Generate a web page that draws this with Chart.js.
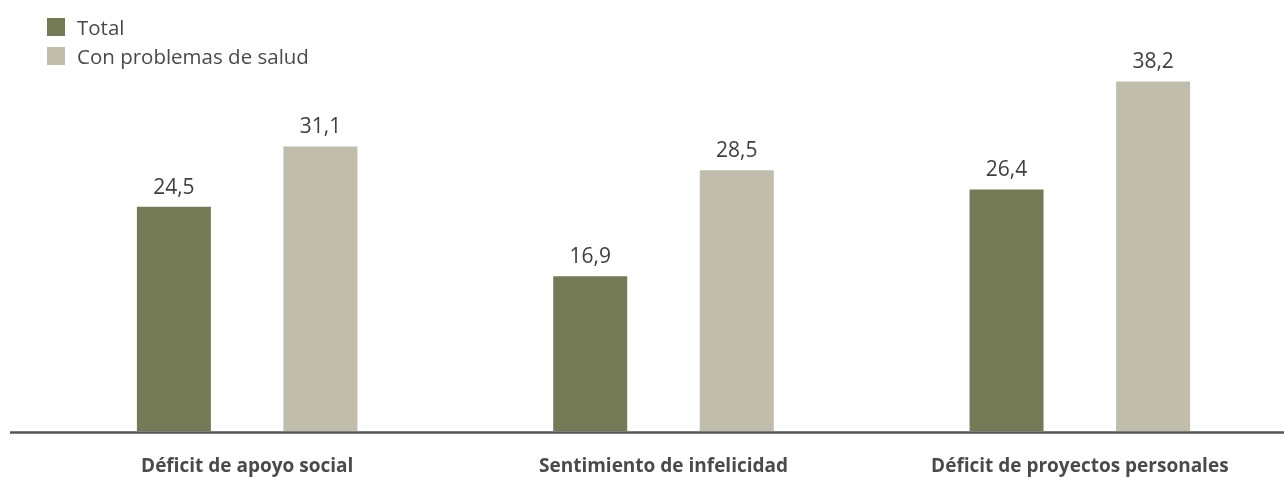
<!DOCTYPE html>
<html>
<head>
<meta charset="utf-8">
<script src="https://cdn.jsdelivr.net/npm/chart.js@4/dist/chart.umd.min.js"></script>
<style>
  html, body { margin: 0; padding: 0; background: #fff; overflow: hidden; }
  #wrap { position: relative; width: 1284px; height: 477px; overflow: hidden; }
  #legend { position: absolute; left: 47px; top: 12px; font-family: "Open Sans", sans-serif; font-size: 20.5px; color: #4a4a4a; }
  #legend div { display: flex; align-items: center; height: 29px; }
  #legend span.box { width: 18px; height: 18px; margin-right: 12px; display: inline-block; }
</style>
</head>
<body>
<div id="wrap">
  <canvas id="chart" width="1288" height="477"></canvas>
  <div id="legend"></div>
</div>
<script>
// data
var categories = ['Déficit de apoyo social', 'Sentimiento de infelicidad', 'Déficit de proyectos personales'];
var total = [24.5, 16.9, 26.4];
var conProblemas = [31.1, 28.5, 38.2];
var seriesNames = ['Total', 'Con problemas de salud'];
var colors = ['#737a55', '#c0bdac'];

// value labels above each bar
var valueLabels = {
  id: 'valueLabels',
  afterDatasetsDraw: function(chart) {
    var ctx = chart.ctx;
    ctx.save();
    ctx.font = '21px "Open Sans", sans-serif';
    ctx.fillStyle = '#404040';
    ctx.textAlign = 'center';
    ctx.textBaseline = 'alphabetic';
    chart.data.datasets.forEach(function(ds, i) {
      chart.getDatasetMeta(i).data.forEach(function(bar, j) {
        ctx.fillText(ds.data[j].toFixed(1).replace('.', ','), bar.x, bar.y - 13);
      });
    });
    ctx.restore();
  }
};

// baseline running across the whole width
var baseLine = {
  id: 'baseLine',
  afterDatasetsDraw: function(chart) {
    var ctx = chart.ctx, y = chart.chartArea.bottom + 1.5;
    ctx.save();
    ctx.strokeStyle = '#555';
    ctx.lineWidth = 2.5;
    ctx.beginPath();
    ctx.moveTo(10, y);
    ctx.lineTo(chart.width, y);
    ctx.stroke();
    ctx.restore();
  }
};

var chart = new Chart(document.getElementById('chart'), {
  type: 'bar',
  data: {
    labels: categories,
    datasets: [
      { label: seriesNames[0], data: total, backgroundColor: colors[0] },
      { label: seriesNames[1], data: conProblemas, backgroundColor: colors[1] }
    ]
  },
  options: {
    responsive: false,
    animation: false,
    layout: { padding: { left: 39, right: 0, top: 65, bottom: 0 } },
    datasets: { bar: { categoryPercentage: 0.704, barPercentage: 0.505 } },
    plugins: { legend: { display: false }, tooltip: { enabled: false } },
    scales: {
      x: {
        grid: { display: false },
        border: { display: false },
        afterFit: function(scale) { scale.height = 46; },
        ticks: {
          color: '#4a4a4a',
          padding: 16,
          maxRotation: 0,
          font: { family: '"Open Sans", sans-serif', size: 19, weight: 'bold' }
        }
      },
      y: { display: false, min: 0, max: 40 }
    }
  },
  plugins: [valueLabels, baseLine]
});

// html legend built from the datasets
var legend = document.getElementById('legend');
chart.data.datasets.forEach(function(ds) {
  var row = document.createElement('div');
  row.innerHTML = '<span class="box" style="background:' + ds.backgroundColor + '"></span>' + ds.label;
  legend.appendChild(row);
});
</script>
</body>
</html>
